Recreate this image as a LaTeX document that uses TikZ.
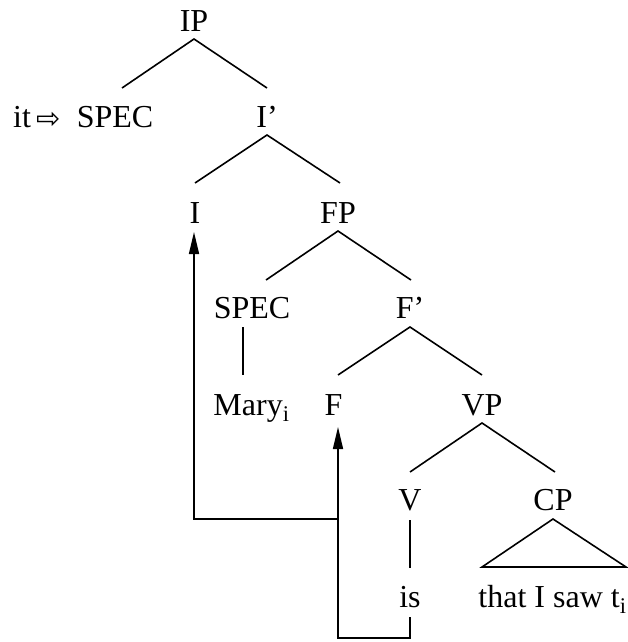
\documentclass[tikz,border=0pt]{standalone}
\usepackage{fontspec}
\setmainfont{Liberation Serif}
\newfontfamily\symfont{DejaVu Sans}
\usetikzlibrary{calc,arrows.meta}
\begin{document}
\begin{tikzpicture}[x=1pt,y=-1pt,
  lbl/.style={anchor=base,inner sep=0pt,font=\fontsize{32}{36}\selectfont},
  edge/.style={line width=1.6pt},
  mv/.style={line width=1.6pt,-{Triangle[length=22pt,width=10pt]}}]
\useasboundingbox (0,0) rectangle (628,642);
% nodes
\node[lbl] (IP) at (194,32) {IP};
\node[lbl] (it) at (22,127) {it};
\node[anchor=base,inner sep=0pt,font=\symfont\fontsize{29}{29}\selectfont] (arr) at (48.5,128) {⇨};
\node[lbl] (spec1) at (115,127) {SPEC};
\node[lbl] (Ib) at (267,127) {I’};
\node[lbl] (I) at (195,223) {I};
\node[lbl] (FP) at (338,223) {FP};
\node[lbl] (spec2) at (252,318) {SPEC};
\node[lbl] (Fb) at (410,318) {F’};
\node[lbl] (Mary) at (251.5,415) {Mary\textsubscript{i}};
\node[lbl] (F) at (333.5,415) {F};
\node[lbl] (VP) at (482,415) {VP};
\node[lbl] (V) at (410,510) {V};
\node[lbl] (CP) at (553,510) {CP};
\node[lbl] (is) at (410,607) {is};
\node[lbl] (that) at (552.5,607) {that I saw t\textsubscript{i}};
% tree edges
\draw[edge] ($(spec1.base)+(7,-39)$) -- ($(IP.base)+(0,7)$) -- ($(Ib.base)+(0,-39)$);
\draw[edge] ($(I.base)+(0,-40)$) -- ($(Ib.base)+(0,8)$) -- ($(FP.base)+(2,-40)$);
\draw[edge] ($(spec2.base)+(14,-38)$) -- ($(FP.base)+(0,8)$) -- ($(Fb.base)+(1,-38)$);
\draw[edge] ($(spec2.base)+(-9,9)$) -- ($(Mary.base)+(-8.5,-40)$);
\draw[edge] ($(F.base)+(4.5,-40)$) -- ($(Fb.base)+(0,9)$) -- ($(VP.base)+(0,-40)$);
\draw[edge] ($(V.base)+(0,-38)$) -- ($(VP.base)+(0,8)$) -- ($(CP.base)+(2,-38)$);
\draw[edge] ($(V.base)+(0,10)$) -- ($(is.base)+(0,-39)$);
\draw[edge,line join=miter] ($(CP.base)+(0,9)$) -- ($(that.base)+(-70.5,-40)$) -- ($(that.base)+(73.5,-40)$) -- cycle;
% movement arrows
\coordinate (isb) at ($(is.base)+(0,10)$);
\coordinate (c1) at ($(is.base)+(0,31)$);
\coordinate (c2) at ($(F.base)+(4.5,223)$);
\coordinate (c3) at ($(F.base)+(4.5,104)$);
\draw[mv] (isb) -- (c1) -- (c2) -- ($(F.base)+(4.5,12)$);
\draw[mv] (c3) -| ($(I.base)+(-1,9)$);
\end{tikzpicture}
\end{document}
